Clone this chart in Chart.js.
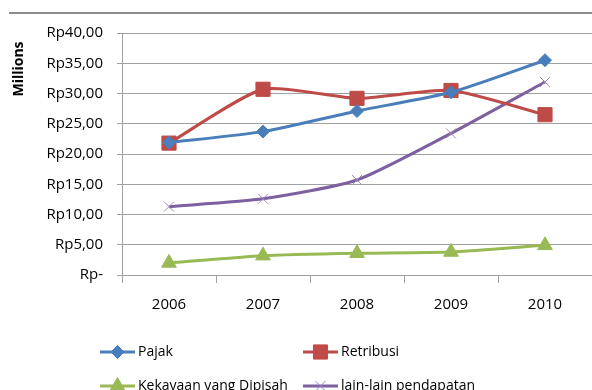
<!DOCTYPE html>
<html>
<head>
<meta charset="utf-8">
<script src="https://cdn.jsdelivr.net/npm/chart.js@4/dist/chart.umd.min.js"></script>
<style>
  html, body { margin: 0; padding: 0; background: #ffffff; }
  #wrap { width: 592px; height: 390px; position: relative; }
</style>
</head>
<body>
<div id="wrap"><canvas id="c" width="592" height="390"></canvas></div>
<script>
// Pendapatan daerah 2006-2010 (dalam jutaan rupiah)
const years = ['2006', '2007', '2008', '2009', '2010'];
const pajak = [21.9, 23.7, 27.1, 30.2, 35.5];
const retribusi = [21.8, 30.7, 29.2, 30.5, 26.5];
const kekayaan = [2.0, 3.2, 3.6, 3.8, 4.9];
const lainLain = [11.3, 12.6, 15.7, 23.4, 31.9];
const yTicks = [0, 5, 10, 15, 20, 25, 30, 35, 40];

const FONT = '"Open Sans", "DejaVu Sans", sans-serif';

function rupiah(v) {
  return v === 0 ? 'Rp-' : 'Rp' + v.toFixed(2).replace('.', ',');
}

const series = [
  { label: 'Pajak', data: pajak, color: '#4a7ebb', marker: 'rectRot', radius: 6.5, markerColor: '#4a7ebb', markerBorder: 1 },
  { label: 'Retribusi', data: retribusi, color: '#be4b48', marker: 'rect', radius: 10, markerColor: '#be4b48', markerBorder: 1 },
  { label: 'Kekayaan yang Dipisah', data: kekayaan, color: '#98b954', marker: 'triangle', radius: 8.5, markerColor: '#98b954', markerBorder: 1 },
  { label: 'lain-lain pendapatan', data: lainLain, color: '#7d60a0', marker: 'crossRot', radius: 7, markerColor: '#9c86bd', markerBorder: 1 }
];

// Frame line, rotated unit label and two-column legend
const decorations = {
  id: 'decorations',
  afterDraw(chart) {
    const ctx = chart.ctx;
    ctx.save();
    // top frame line
    ctx.strokeStyle = '#8c8c8c';
    ctx.lineWidth = 2;
    ctx.beginPath();
    ctx.moveTo(9, 13);
    ctx.lineTo(592, 13);
    ctx.stroke();

    // unit label
    ctx.save();
    ctx.translate(19, 69);
    ctx.rotate(-Math.PI / 2);
    ctx.fillStyle = '#000000';
    ctx.font = 'bold 14px ' + FONT;
    ctx.textAlign = 'center';
    ctx.textBaseline = 'middle';
    ctx.fillText('Millions', 0, 0);
    ctx.restore();

    // legend
    const cols = [100, 303];
    const rows = [352, 386];
    chart.data.datasets.forEach((ds, i) => {
      const x = cols[i % 2];
      const y = rows[Math.floor(i / 2)];
      ctx.strokeStyle = ds.borderColor;
      ctx.lineWidth = 3;
      ctx.beginPath();
      ctx.moveTo(x, y);
      ctx.lineTo(x + 35, y);
      ctx.stroke();
      ctx.fillStyle = ds.pointBackgroundColor;
      ctx.strokeStyle = ds.pointBorderColor;
      ctx.lineWidth = ds.pointBorderWidth;
      Chart.helpers.drawPoint(ctx, {
        pointStyle: ds.pointStyle,
        radius: ds.pointRadius,
        borderWidth: ds.pointBorderWidth,
        rotation: 0
      }, x + 17.5, y);
      ctx.fillStyle = '#000000';
      ctx.font = '14px ' + FONT;
      ctx.textAlign = 'left';
      ctx.textBaseline = 'middle';
      ctx.fillText(ds.label, x + 38, y);
    });
    ctx.restore();
  }
};

new Chart(document.getElementById('c'), {
  type: 'line',
  data: {
    labels: years,
    datasets: series.map(s => ({
      label: s.label,
      data: s.data,
      borderColor: s.color,
      backgroundColor: s.color,
      borderWidth: 3,
      tension: 0.2,
      pointStyle: s.marker,
      pointRadius: s.radius,
      pointBackgroundColor: s.markerColor,
      pointBorderColor: s.markerColor,
      pointBorderWidth: s.markerBorder,
      fill: false,
      clip: false
    }))
  },
  options: {
    responsive: false,
    animation: false,
    devicePixelRatio: 1,
    layout: { autoPadding: false, padding: { top: 33, right: 0, left: 0, bottom: 0 } },
    plugins: { legend: { display: false }, tooltip: { enabled: false } },
    scales: {
      x: {
        offset: true,
        grid: { display: true, drawOnChartArea: false, color: '#a0a0a0', tickLength: 8, offset: true },
        border: { color: '#a0a0a0', width: 1 },
        ticks: { color: '#000000', font: { family: FONT, size: 15 }, padding: 13, maxRotation: 0 },
        afterFit(scale) { scale.height = 115; }
      },
      y: {
        min: 0,
        max: 40,
        afterBuildTicks(scale) { scale.ticks = yTicks.map(v => ({ value: v })); },
        grid: { color: '#a0a0a0', tickLength: 5, lineWidth: 1 },
        border: { color: '#a0a0a0', width: 1 },
        ticks: { color: '#000000', font: { family: FONT, size: 15 }, padding: 14, callback: v => rupiah(v) },
        afterFit(scale) { scale.width = 122; }
      }
    }
  },
  plugins: [decorations]
});
</script>
</body>
</html>
